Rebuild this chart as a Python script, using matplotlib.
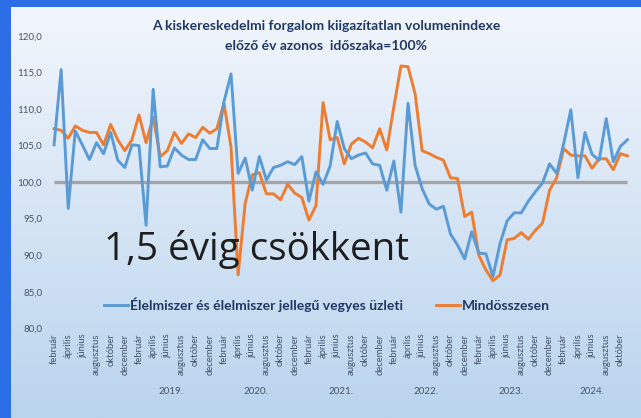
import matplotlib
matplotlib.use('Agg')
import matplotlib.pyplot as plt
import matplotlib.transforms as mtrans
import numpy as np
from matplotlib.lines import Line2D

# ---- data (monthly, February 2018 - November 2024) ----
elelmiszer = [105.1, 115.4, 96.4, 107.0, 105.1, 103.1, 105.4, 103.9, 106.8, 103.0, 102.0, 105.1,
              105.0, 94.1, 112.7, 102.1, 102.2, 104.7, 103.7, 103.1, 103.1, 105.8, 104.6, 104.6,
              111.0, 114.8, 101.2, 103.3, 98.9, 103.5, 100.3, 102.0, 102.3, 102.8, 102.4, 103.5,
              97.4, 101.4, 99.7, 102.2, 108.3, 104.6, 103.2, 103.7, 104.0, 102.5, 102.3, 98.9,
              102.9, 95.9, 110.8, 102.3, 99.1, 97.0, 96.3, 96.7, 92.9, 91.4, 89.5, 93.2,
              90.3, 90.2, 87.1, 91.6, 94.7, 95.8, 95.8, 97.4, 98.7, 99.9, 102.5, 101.2,
              105.3, 109.9, 100.6, 106.8, 103.8, 103.0, 108.7, 102.8, 104.9, 105.8]
mindosszesen = [107.3, 107.1, 106.0, 107.7, 107.1, 106.8, 106.8, 105.1, 107.9, 105.8, 104.3, 105.8,
                109.2, 105.4, 108.9, 103.5, 104.3, 106.8, 105.3, 106.6, 106.1, 107.5, 106.7, 107.3,
                110.8, 104.8, 87.3, 97.1, 101.0, 101.3, 98.4, 98.4, 97.6, 99.7, 98.5, 97.9,
                94.8, 96.8, 110.9, 105.8, 106.1, 102.5, 105.2, 106.0, 105.5, 104.7, 107.3, 104.4,
                110.3, 115.9, 115.8, 112.1, 104.3, 103.9, 103.4, 103.0, 100.6, 100.5, 95.3, 95.9,
                90.0, 88.0, 86.5, 87.3, 92.1, 92.3, 93.1, 92.2, 93.4, 94.4, 98.9, 100.6,
                104.6, 103.7, 103.6, 103.6, 101.9, 103.2, 103.2, 101.7, 103.9, 103.6]
bazis = 100.0
honapok = ['január', 'február', 'március', 'április', 'május', 'június', 'július',
           'augusztus', 'szeptember', 'október', 'november', 'december']
start_year, start_month = 2018, 1   # month index 1 = február
evek_cimke = ['2019.', '2020.', '2021.', '2022.', '2023.', '2024.']
y_ticks = [80, 85, 90, 95, 100, 105, 110, 115, 120]

title1 = 'A kiskereskedelmi forgalom kiigazítatlan volumenindexe'
title2 = 'előző év azonos  időszaka=100%'
label_blue = 'Élelmiszer és élelmiszer jellegű vegyes üzleti'
label_orange = 'Mindösszesen'
big_text = '1,5 évig csökkent'

# ---- figure ----
W, H = 641, 418
fig = plt.figure(figsize=(W / 100, H / 100), dpi=100, facecolor='#2b6ee6')

# light gradient panel
bg = fig.add_axes([11 / W, 0, (W - 11) / W, (H - 7) / H])
top = np.array([242, 246, 252]) / 255
bot = np.array([186, 212, 238]) / 255
t = np.linspace(0, 1, 256)[:, None]
grad = top[None, :] * (1 - t) + bot[None, :] * t
bg.imshow(grad[:, None, :], aspect='auto', extent=[0, 1, 0, 1])
bg.set_axis_off()

font = 'Lato'
navy = '#1f3864'
tickc = '#44546a'

ax = fig.add_axes([50.5 / W, 1 - 328.3 / H, (631 - 50.5) / W, (328.3 - 36) / H])
ax.patch.set_alpha(0)
n = len(elelmiszer)
x = np.arange(n)
ax.hlines(bazis, 0, n - 1, color='#a5a5a5', lw=2.4, zorder=1)
ax.plot(x, elelmiszer, color='#5b9bd5', lw=2.1, zorder=3, solid_joinstyle='round')
ax.plot(x, mindosszesen, color='#ed7d31', lw=2.1, zorder=2, solid_joinstyle='round')
ax.set_xlim(-0.5, n - 0.5)
ax.set_ylim(80, 120)
for s in ax.spines.values():
    s.set_visible(False)

ax.set_yticks(y_ticks)
ax.set_yticklabels([f'{v:.1f}'.replace('.', ',') for v in y_ticks],
                   fontsize=7, color=tickc, family=font)
ax.tick_params(axis='y', length=0, pad=6)

months = [(start_month + i) % 12 for i in range(n)]
years = [start_year + (start_month + i) // 12 for i in range(n)]
tick_pos = [i for i in range(n) if i % 2 == 0]
ax.set_xticks(tick_pos)
ax.set_xticklabels([honapok[months[i]] for i in tick_pos], rotation=90,
                   fontsize=6.8, color=tickc, family=font)
ax.tick_params(axis='x', length=0, pad=4)

# year labels centred under each year's group
trans = mtrans.blended_transform_factory(ax.transData, fig.transFigure)
for lab in evek_cimke:
    yr = int(lab.strip('.'))
    idx = [i for i in range(n) if years[i] == yr]
    ax.text((idx[0] + idx[-1]) / 2, 1 - 392 / H, lab, transform=trans,
            ha='center', va='center', fontsize=7, color=tickc, family=font)

# titles
fig.text(326 / W, 1 - 26 / H, title1, ha='center', va='center', fontsize=10,
         weight='bold', color=navy, family=font)
fig.text(326 / W, 1 - 46 / H, title2, ha='center', va='center', fontsize=10,
         weight='bold', color=navy, family=font)

# big annotation
fig.text(104 / W, 1 - 260 / H, big_text, ha='left', va='baseline', fontsize=27.7,
         color='#1e1e1e', family='Open Sans')

# legend
handles = [Line2D([], [], color='#5b9bd5', lw=2.1), Line2D([], [], color='#ed7d31', lw=2.1)]
leg = ax.legend(handles, [label_blue, label_orange], ncol=2, frameon=False,
                loc='center left', bbox_to_anchor=(104 / W, 1 - 305 / H),
                bbox_transform=fig.transFigure, borderpad=0, borderaxespad=0,
                handlelength=1.7, handletextpad=0.15, columnspacing=2.4,
                prop={'family': font, 'weight': 'bold', 'size': 10})
for txt in leg.get_texts():
    txt.set_color(navy)

fig.savefig('out.png', dpi=100, facecolor=fig.get_facecolor())
